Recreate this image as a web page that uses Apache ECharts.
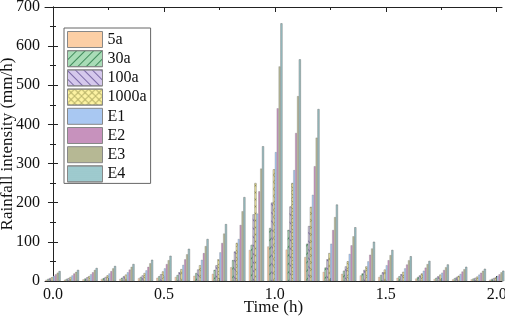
<!DOCTYPE html>
<html>
<head>
<meta charset="utf-8">
<script src="https://cdn.jsdelivr.net/npm/echarts@6/dist/echarts.min.js"></script>
<style>
  html, body { margin: 0; padding: 0; background: #fff; }
  #chart { width: 505px; height: 319px; }
</style>
</head>
<body>
<div id="chart"></div>
<script>
// Rainfall intensity hyetographs: 25 five-minute steps, 8 design storms per step.
const times = [0, 0.083, 0.167, 0.25, 0.333, 0.417, 0.5, 0.583, 0.667, 0.75, 0.833, 0.917,
  1.0, 1.083, 1.167, 1.25, 1.333, 1.417, 1.5, 1.583, 1.667, 1.75, 1.833, 1.917, 2.0];

const rp5 = [3, 3, 4, 5, 5, 7, 8, 10, 13, 18, 35, 79, 88, 80, 61, 23, 18, 14, 10, 8, 6, 5, 4, 4, 3];
const rp30 = [5, 5, 6, 7, 8, 10, 12, 15, 20, 28, 53, 92, 135, 130, 95, 34, 26, 19, 15, 12, 10, 8, 7, 6, 5];
const rp100 = [7, 7, 9, 10, 12, 14, 17, 22, 29, 40, 75, 170, 200, 190, 140, 55, 37, 28, 22, 17, 14, 12, 10, 8, 7];
const rp1000 = [9, 10, 12, 14, 16, 20, 24, 30, 40, 55, 97, 250, 285, 250, 189, 71, 50, 37, 29, 23, 19, 16, 13, 11, 9];
const e1 = [13, 14, 17, 19, 22, 27, 32, 41, 54, 73, 107, 172, 329, 283, 220, 95, 69, 50, 40, 32, 26, 21, 18, 16, 13];
const e2 = [17, 19, 22, 25, 29, 36, 43, 55, 71, 97, 143, 229, 441, 378, 293, 130, 91, 67, 53, 42, 34, 28, 24, 21, 17];
const e3 = [21, 23, 28, 32, 36, 45, 53, 68, 89, 121, 178, 287, 548, 472, 366, 163, 114, 83, 66, 53, 43, 35, 30, 26, 22];
const e4 = [25, 28, 33, 38, 43, 54, 64, 82, 107, 145, 214, 344, 658, 566, 439, 195, 137, 100, 79, 63, 51, 42, 36, 31, 26];

const names = ['5a', '30a', '100a', '1000a', 'E1', 'E2', 'E3', 'E4'];
const values = [rp5, rp30, rp100, rp1000, e1, e2, e3, e4];
const fills = ['#fccfa5', '#a9dcb7', '#d5c8ec', '#fdf3a3', '#a9c8f2', '#c792bd', '#b6b894', '#a2ced2'];

const FONT = 'Liberation Serif';

const decals = {
  '30a': { symbol: 'rect', symbolSize: 1, color: '#3f8a5a', dashArrayX: [1, 0], dashArrayY: [1, 4.5], rotation: -Math.PI / 4 },
  '100a': { symbol: 'rect', symbolSize: 1, color: '#7a68a6', dashArrayX: [1, 0], dashArrayY: [1, 4.5], rotation: Math.PI / 4 },
  '1000a': { symbol: 'path://M0,0.7L0.7,0L10,9.3L9.3,10Z M9.3,0L10,0.7L0.7,10L0,9.3Z', symbolSize: 1, color: '#9a9650', dashArrayX: [7, 0], dashArrayY: [7, 0] },
  'E4': { symbol: 'circle', symbolSize: 0.4, color: '#7fa9ad', dashArrayX: [2, 0], dashArrayY: [2, 0] },
};

const chart = echarts.init(document.getElementById('chart'), null, { renderer: 'canvas' });

const series = names.map((name, i) => ({
  name,
  type: 'bar',
  xAxisIndex: 0,
  yAxisIndex: 0,
  barWidth: 1.8,
  barGap: '5%',
  data: times.map((t, j) => [t, values[i][j]]),
  itemStyle: {
    color: fills[i],
    borderColor: '#666',
    borderWidth: 0.25,
    decal: decals[name] || null,
  },
}));

const tickStyle = { color: '#222', width: 1 };
const xMajor = [0, 0.5, 1, 1.5, 2];
const xMinor = [0.25, 0.75, 1.25, 1.75];

chart.setOption({
  animation: false,
  grid: { left: 45, right: 3, top: 7, bottom: 38, containLabel: false, outerBoundsMode: 'none' },
  legend: {
    orient: 'vertical',
    left: 64,
    top: 28,
    itemWidth: 35,
    itemHeight: 16,
    itemGap: 2.2,
    icon: 'rect',
    padding: [3, 4, 1, 3],
    borderColor: '#666',
    borderWidth: 1,
    itemStyle: { borderColor: '#888', borderWidth: 1 },
    textStyle: { fontFamily: FONT, fontSize: 16, color: '#111' },
    data: names,
  },
  xAxis: [
    {
      type: 'value', min: -0.036, max: 2.024, position: 'bottom',
      name: 'Time (h)', nameLocation: 'middle', nameGap: 18, nameMoveOverlap: false,
      nameTextStyle: { fontFamily: FONT, fontSize: 17, color: '#111' },
      axisLine: { lineStyle: { color: '#222' } },
      axisTick: { inside: true, length: 5, customValues: xMajor, lineStyle: tickStyle },
      axisLabel: { customValues: xMajor, formatter: (v) => v.toFixed(1), margin: 6, fontFamily: FONT, fontSize: 16, color: '#111' },
      splitLine: { show: false },
    },
    {
      type: 'value', min: -0.036, max: 2.024, position: 'bottom',
      axisLine: { show: false },
      axisTick: { inside: true, length: 3, customValues: xMinor, lineStyle: tickStyle },
      axisLabel: { show: false },
      splitLine: { show: false },
    },
    {
      type: 'value', min: -0.036, max: 2.024, position: 'top',
      axisLine: { lineStyle: { color: '#222' } },
      axisTick: { inside: true, length: 5, customValues: xMajor, lineStyle: tickStyle },
      axisLabel: { show: false },
      splitLine: { show: false },
    },
    {
      type: 'value', min: -0.036, max: 2.024, position: 'top',
      axisLine: { show: false },
      axisTick: { inside: true, length: 3, customValues: xMinor, lineStyle: tickStyle },
      axisLabel: { show: false },
      splitLine: { show: false },
    },
  ],
  yAxis: [
    {
      type: 'value', min: 0, max: 700, interval: 100, position: 'left',
      name: 'Rainfall intensity (mm/h)', nameLocation: 'middle', nameGap: 29, nameMoveOverlap: false,
      nameTextStyle: { fontFamily: FONT, fontSize: 17, color: '#111' },
      axisLine: { show: true, lineStyle: { color: '#222' } },
      axisTick: { show: true, inside: true, length: 5, lineStyle: tickStyle },
      minorTick: { show: true, splitNumber: 2, length: 3, lineStyle: tickStyle },
      axisLabel: { margin: 5, fontFamily: FONT, fontSize: 16, color: '#111' },
      splitLine: { show: false },
    },
    {
      type: 'value', min: 0, max: 700, interval: 100, position: 'right',
      axisLine: { show: true, lineStyle: { color: '#222' } },
      axisTick: { show: true, inside: true, length: 5, lineStyle: tickStyle },
      minorTick: { show: true, splitNumber: 2, length: 3, lineStyle: tickStyle },
      axisLabel: { show: false },
      splitLine: { show: false },
    },
  ],
  series,
});
</script>
</body>
</html>
